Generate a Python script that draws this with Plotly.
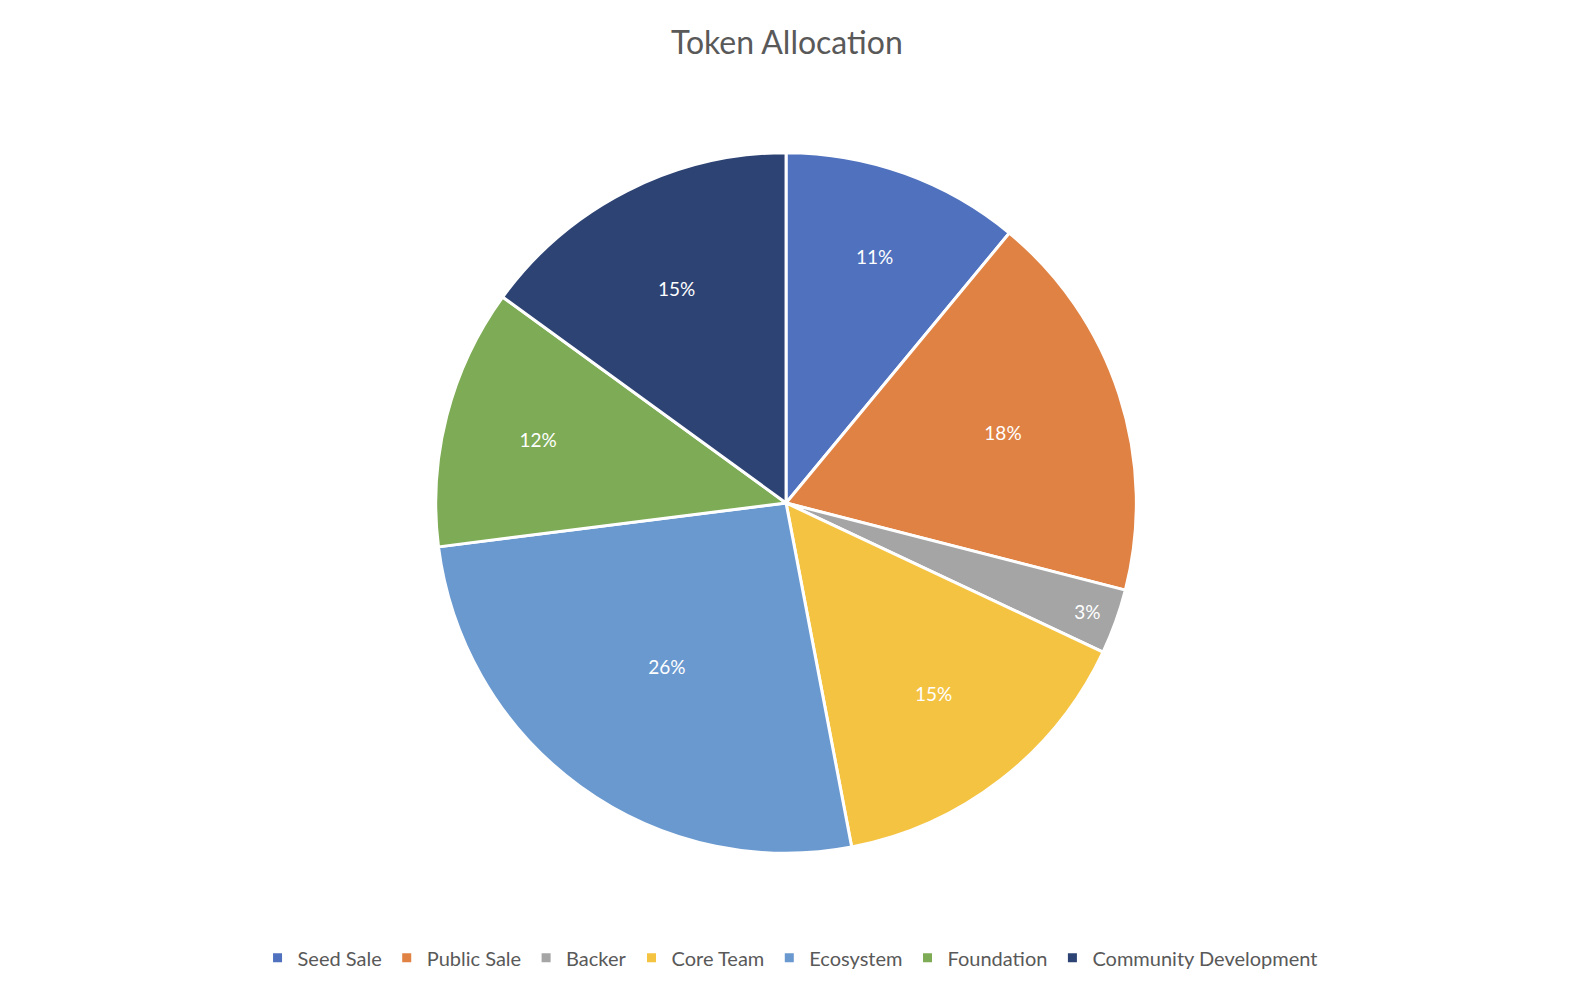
import plotly.graph_objects as go

labels = ["Seed Sale", "Public Sale", "Backer", "Core Team", "Ecosystem", "Foundation", "Community Development"]
values = [11, 18, 3, 15, 26, 12, 15]
colors = ["#4f71be", "#df8244", "#a5a5a5", "#f4c342", "#6a99d0", "#7eab55", "#2d4374"]

fig = go.Figure(go.Pie(
    labels=labels, values=values, sort=False, direction="clockwise", rotation=0,
    marker=dict(colors=colors, line=dict(color="white", width=3)),
    texttemplate="%{percent:.0%}", textposition="inside", insidetextorientation="horizontal",
    textfont=dict(color="white", size=19, family="Lato"),
    domain=dict(x=[0.268, 0.707], y=[0.158, 0.856]),
))
fig.update_layout(
    width=1596, height=1004,
    margin=dict(l=0, r=0, t=0, b=0),
    paper_bgcolor="white",
    title=dict(text="Token Allocation", x=0.488, xanchor="center", y=0.965, yanchor="middle",
               font=dict(size=32, color="#595959", family="Lato")),
    legend=dict(orientation="h", x=0.49, xanchor="center", y=0.054, yanchor="middle",
                font=dict(size=20, color="#595959", family="Lato"), itemwidth=30),
)
fig.write_html("out.html")
